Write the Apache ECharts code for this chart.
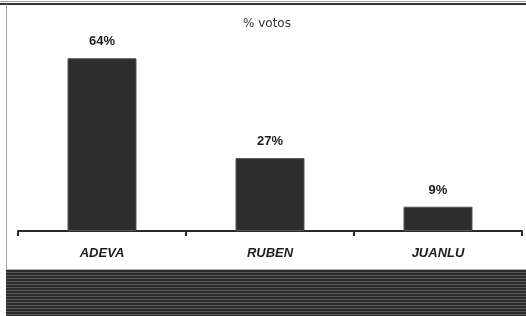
<!DOCTYPE html>
<html>
<head>
<meta charset="utf-8">
<script src="https://cdn.jsdelivr.net/npm/echarts@6/dist/echarts.min.js"></script>
<style>
  html, body { margin: 0; padding: 0; background: #fff; }
  #chart { width: 526px; height: 316px; }
</style>
</head>
<body>
<div id="chart"></div>
<script>
// datos
const categorias = ['ADEVA', 'RUBEN', 'JUANLU'];
const votos = [64, 27, 9];

const COLORS = {
  BAR: '#2d2d2d',
  BAR_BORDER: '#555555',
  TEXT: '#1e1e1e',
  AXIS: '#2a2a2a',
};

// rayas del fondo inferior
const makeStripes = () => {
  const c = document.createElement('canvas');
  c.width = 4; c.height = 3;
  const ctx = c.getContext('2d');
  ctx.fillStyle = '#2c2c2c';
  ctx.fillRect(0, 0, 4, 3);
  ctx.fillStyle = '#5c5c5c';
  ctx.fillRect(0, 2, 4, 1);
  return c;
};

const myChart = echarts.init(document.getElementById('chart'), null, { renderer: 'canvas' });

myChart.setOption({
  animation: false,
  backgroundColor: '#ffffff',
  title: {
    text: '% votos',
    left: 243,
    top: 18,
    padding: 0,
    textStyle: { fontFamily: 'DejaVu Sans', fontSize: 12, fontWeight: 'normal', color: '#333' }
  },
  graphic: [
    { type: 'rect', shape: { x: 0, y: 1, width: 526, height: 1 }, style: { fill: '#a0a0a0' }, z: 10 },
    { type: 'rect', shape: { x: 0, y: 3, width: 526, height: 2 }, style: { fill: '#333' }, z: 10 },
    { type: 'rect', shape: { x: 6, y: 4, width: 1, height: 312 }, style: { fill: '#a0a0a0' }, z: 10 },
    { type: 'rect', shape: { x: 6, y: 269, width: 520, height: 1 }, style: { fill: '#b0b0b0' }, z: 10 },
    { type: 'rect', shape: { x: 6, y: 270, width: 520, height: 46 },
      style: { fill: { image: makeStripes(), repeat: 'repeat' } }, z: 10 }
  ],
  grid: { left: 18, right: 4, top: 42, bottom: 316 - 231 },
  xAxis: {
    type: 'category',
    data: categorias,
    axisLine: { lineStyle: { color: COLORS.AXIS, width: 2 } },
    axisTick: { show: true, length: 5, lineStyle: { color: COLORS.AXIS, width: 2 } },
    axisLabel: {
      margin: 16,
      fontFamily: 'Liberation Sans',
      fontSize: 13,
      fontWeight: 'bold',
      fontStyle: 'italic',
      color: COLORS.TEXT
    }
  },
  yAxis: {
    type: 'value',
    min: 0,
    max: 70,
    show: false,
    splitLine: { show: false }
  },
  series: [{
    type: 'bar',
    data: votos,
    barWidth: 69,
    itemStyle: { color: COLORS.BAR, borderColor: COLORS.BAR_BORDER, borderWidth: 1 },
    label: {
      show: true,
      position: 'top',
      distance: 10,
      formatter: '{c}%',
      fontFamily: 'Liberation Sans',
      fontSize: 13,
      fontWeight: 'bold',
      color: COLORS.TEXT
    }
  }]
});
</script>
</body>
</html>
